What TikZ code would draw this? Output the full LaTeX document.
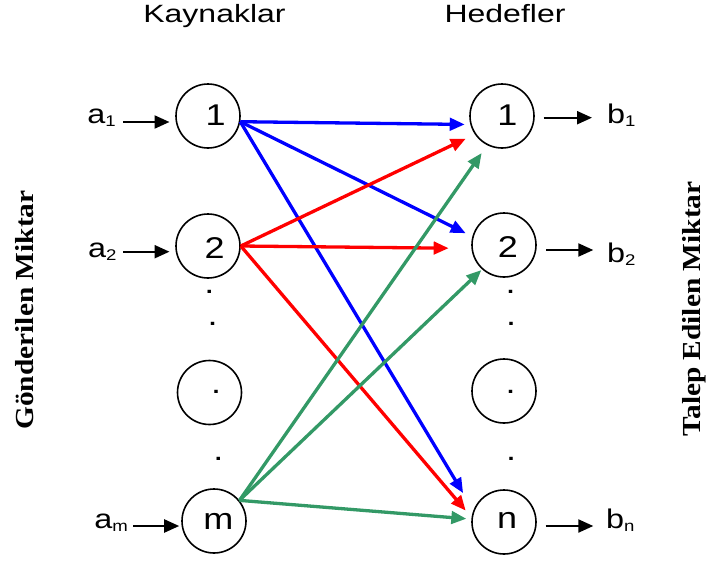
\documentclass[tikz,border=0pt]{standalone}
\usepackage{fontspec}
\setmainfont{Liberation Sans}
\newfontfamily\wsans[FakeStretch=1.2]{Liberation Sans}
\newfontfamily\tsans[FakeStretch=1.28]{Liberation Sans}
\newfontfamily\wserif[FakeStretch=1.13]{Liberation Serif}
\usetikzlibrary{arrows.meta}

\definecolor{flowblue}{RGB}{0,0,255}
\definecolor{flowred}{RGB}{255,0,0}
\definecolor{flowgreen}{RGB}{51,153,102}

% letter with a lowered index, e.g. a_1
\newcommand{\idx}[2]{#1\raisebox{-3pt}{\fontsize{15.5}{15.5}\selectfont #2}}

\tikzset{
  site/.style={circle, draw, line width=1.6pt, minimum size=64pt, inner sep=0pt},
  sitetext/.style={inner sep=0pt, font=\wsans\fontsize{30}{30}\selectfont},
  gapdot/.style={inner sep=0pt, font=\wsans\fontsize{30}{30}\selectfont},
  endlabel/.style={inner sep=0pt, font=\wsans\fontsize{27}{27}\selectfont},
  heading/.style={inner sep=0pt, anchor=base, font=\tsans\fontsize{25}{25}\selectfont},
  sidetitle/.style={inner sep=0pt, anchor=base, rotate=90, font=\wserif\bfseries\fontsize{26}{26}\selectfont},
  feed/.style={line width=2.2pt, -{Triangle[length=15pt,width=13pt]}},
  flow/.style={line width=3.3pt, -{Triangle[length=15pt,width=12.5pt]}},
}

\begin{document}
\begin{tikzpicture}[x=1pt,y=-1pt]
\path[use as bounding box] (0,0) rectangle (710,560);

% column headings
\node[heading] (hsrc) at (214.5,22) {Kaynaklar};
\node[heading] (hdst) at (505,22.5) {Hedefler};

% side titles
\node[sidetitle] (tsend) at (33,310) {Gönderilen Miktar};
\node[sidetitle] (tdemand) at (700,309) {Talep Edilen Miktar};

% sources
\node[site] (s1) at (208,116) {};
\node[site] (s2) at (208,246) {};
\node[site] (s3) at (209.5,392.5) {};
\node[site] (sm) at (214,521) {};
\node[sitetext] (s1t) at (215.7,115) {1};
\node[sitetext] (s2t) at (214.7,248.5) {2};
\node[gapdot] (s3t) at (216,392.3) {.};
\node[sitetext] (smt) at (218.3,521) {m};

% destinations
\node[site] (d1) at (502,116) {};
\node[site] (d2) at (504,245) {};
\node[site] (d3) at (504,391) {};
\node[site] (dn) at (504,522) {};
\node[sitetext] (d1t) at (507.5,114.7) {1};
\node[sitetext] (d2t) at (508,247.5) {2};
\node[gapdot] (d3t) at (510.5,392.3) {.};
\node[sitetext] (dnt) at (507.2,520.5) {n};

% dots between the circles
\node[gapdot] (sg1) at (209.3,291.7) {.};
\node[gapdot] (sg2) at (212.7,324) {.};
\node[gapdot] (sg3) at (218.3,459.3) {.};
\node[gapdot] (dg1) at (510.7,291.7) {.};
\node[gapdot] (dg2) at (511,324) {.};
\node[gapdot] (dg3) at (511,459.3) {.};

% supplies
\node[endlabel, anchor=base east] (a1) at (116,123.8) {\idx{a}{1}};
\node[endlabel, anchor=base east] (a2) at (116.7,257) {\idx{a}{2}};
\node[endlabel, anchor=base east] (am) at (128,528.5) {\idx{a}{m}};
\coordinate (a1from) at (123,122);
\coordinate (a2from) at (123,251.7);
\coordinate (amfrom) at (133,526);
\draw[feed, shorten >=5.7pt] (a1from) -- (a1from -| s1.west);
\draw[feed, shorten >=5.7pt] (a2from) -- (a2from -| s2.west);
\draw[feed, shorten >=2pt] (amfrom) -- (amfrom -| sm.west);

% demands
\node[endlabel, anchor=base west] (b1) at (607,123.8) {\idx{b}{1}};
\node[endlabel, anchor=base west] (b2) at (607,262) {\idx{b}{2}};
\node[endlabel, anchor=base west] (bn) at (606,528.5) {\idx{b}{n}};
\coordinate (b1to) at (592,117.7);
\coordinate (b2to) at (593.3,250);
\coordinate (bnto) at (593.3,526);
\draw[feed, shorten <=8.7pt] (b1to -| d1.east) -- (b1to);
\draw[feed, shorten <=9.4pt] (b2to -| d2.east) -- (b2to);
\draw[feed, shorten <=8.7pt] (bnto -| dn.east) -- (bnto);

% shipments from source 1
\draw[flow, flowblue, shorten >=5.6pt] (s1.-10) -- (d1.195);
\draw[flow, flowblue, shorten >=7.4pt] (s1.-10) -- (d2.165);
\draw[flow, flowblue, shorten >=20pt] (s1.-10) -- (dn.159);

% shipments from source 2
\draw[flow, flowred, shorten >=10pt] (s2.east) -- (d1.214);
\draw[flow, flowred, shorten >=22.7pt] (s2.east) -- (d2.186);
\draw[flow, flowred, shorten >=9pt] (s2.east) -- (dn.172);

% shipments from source m
\draw[flow, flowgreen, shorten >=9.5pt] (sm.39) -- (d1.243);
\draw[flow, flowgreen, shorten >=1pt] (sm.39) -- (d2.228);
\draw[flow, flowgreen, shorten >=5pt] (sm.39) -- (dn.175);
\end{tikzpicture}
\end{document}
